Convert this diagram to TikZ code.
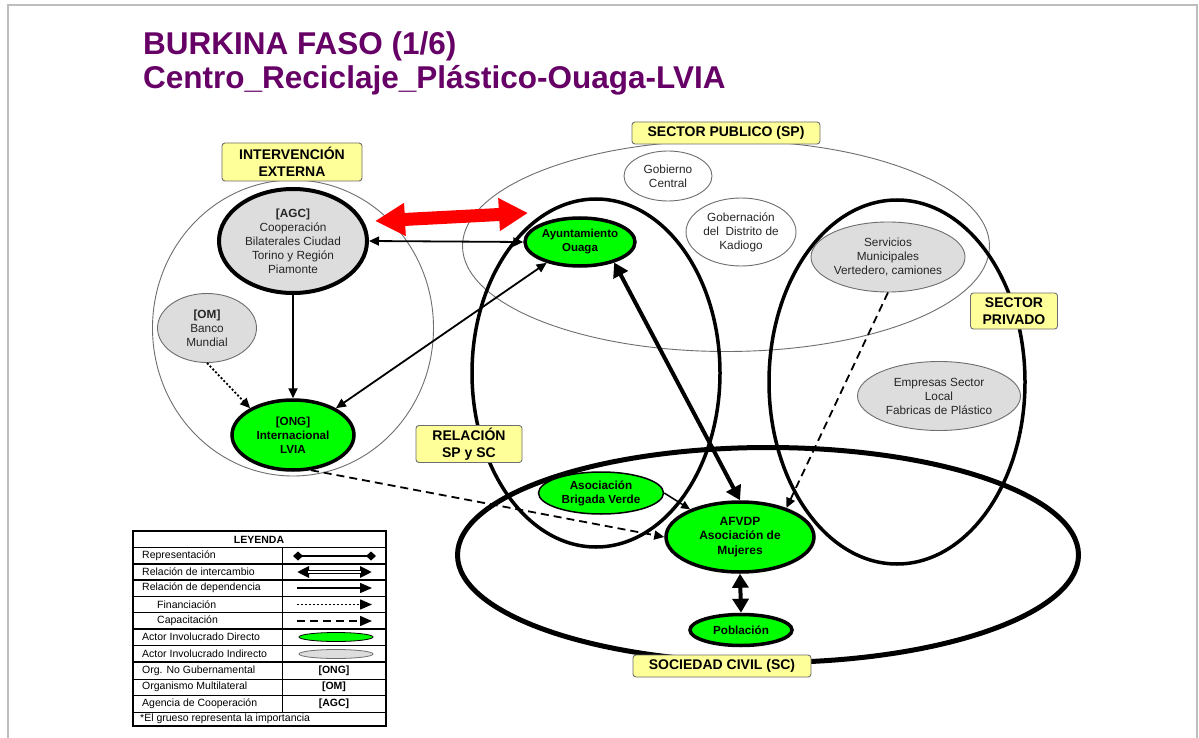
\documentclass[tikz,border=0pt]{standalone}
\usepackage{fontspec}
\setmainfont{Liberation Sans}
\usetikzlibrary{arrows.meta,shapes.geometric}
\definecolor{titlepurple}{RGB}{102,0,102}
\definecolor{actgreen}{RGB}{0,255,0}
\definecolor{actgray}{RGB}{221,221,221}
\definecolor{labyellow}{RGB}{255,255,153}
\definecolor{framegray}{RGB}{190,190,190}
\definecolor{thingray}{RGB}{110,110,110}
\begin{document}
\begin{tikzpicture}[x=1pt,y=-1pt,
  region/.style={ellipse, draw, inner sep=0pt},
  thinregion/.style={region, draw=thingray, line width=0.9},
  thickregion/.style={region, draw=black, line width=3.5},
  lab/.style={draw=thingray, fill=labyellow, rounded corners=3, align=center, inner sep=0pt, line width=0.9, font=\fontsize{14}{17}\selectfont\bfseries},
  actor/.style={ellipse, inner sep=0pt, align=center, font=\fontsize{11.8}{14}\selectfont},
  direct/.style={actor, fill=actgreen, draw=black, line width=3.5, font=\fontsize{11.7}{14}\selectfont\bfseries},
  indirect/.style={actor, fill=actgray, draw=thingray, line width=0.9, text=black!85},
  public/.style={actor, fill=white, draw=thingray, line width=0.9, text=black!85},
  dep/.style={line width=1.8, -{Triangle[length=10pt,width=9pt]}},
  exch/.style={line width=1.8, {Triangle[length=10pt,width=9pt]}-{Triangle[length=10pt,width=9pt]}},
  bigexch/.style={line width=4, {Triangle[length=14pt,width=16pt]}-{Triangle[length=14pt,width=16pt]}},
  fin/.style={dep, dash pattern=on 2pt off 2pt},
  capac/.style={dep, dash pattern=on 8pt off 5pt},
  redarrow/.style={red, line width=13, {Triangle[length=30pt,width=31pt]}-{Triangle[length=29pt,width=31pt]}},
  lgtext/.style={anchor=west, inner sep=0pt, font=\fontsize{10.5}{12}\selectfont},
  lgbold/.style={inner sep=0pt, font=\fontsize{10.5}{12}\selectfont\bfseries},
  lgthick/.style={line width=1.8},
  lgthin/.style={line width=0.8}
]
\useasboundingbox (0,0) rectangle (1199,738);
\fill[white] (0,0) rectangle (1199,738);
\draw[framegray, line width=2] (8,738) -- (8,5) -- (1197,5) -- (1197,738);

% titles
\node[anchor=base west, inner sep=0pt, text=titlepurple, font=\fontsize{31.5}{36}\selectfont\bfseries] (t1) at (143,55) {BURKINA FASO (1/6)};
\node[anchor=base west, inner sep=0pt, text=titlepurple, font=\fontsize{31.5}{36}\selectfont\bfseries] (t2) at (143,89) {Centro\_Reciclaje\_Plástico-Ouaga-LVIA};

% regions
\node[thinregion, minimum width=281, minimum height=296] (ext) at (293,328) {};
\node[thinregion, minimum width=527, minimum height=211] (publ) at (726,246) {};
\node[thickregion, minimum width=248, minimum height=348] (relac) at (596,373) {};
\node[thickregion, minimum width=256, minimum height=364] (priv) at (897,382) {};
\node[region, line width=5, minimum width=621, minimum height=215] (civil) at (768,555) {};

% labels
\node[lab, minimum width=188, minimum height=22] (lsp) at (726,133) {SECTOR PUBLICO (SP)};
\node[lab, minimum width=140, minimum height=38] (lext) at (292,162) {INTERVENCIÓN\\EXTERNA};
\node[lab, minimum width=87, minimum height=36] (lpriv) at (1014,311) {SECTOR\\PRIVADO};
\node[lab, minimum width=106, minimum height=37] (lrel) at (469,444) {RELACIÓN\\SP y SC};
\node[lab, minimum width=178, minimum height=22] (lciv) at (722,666) {SOCIEDAD CIVIL (SC)};

% actors
\node[actor, fill=actgray, draw=black, line width=4, text=black!85, minimum width=148, minimum height=104] (agc) at (293,241) {\textbf{[AGC]}\\Cooperación\\Bilaterales Ciudad\\Torino y Región\\Piamonte};
\node[indirect, minimum width=99, minimum height=69] (om) at (207,328) {\textbf{[OM]}\\Banco\\Mundial};
\node[direct, minimum width=122, minimum height=70] (lvia) at (293,435) {[ONG]\\Internacional\\LVIA};
\node[direct, minimum width=110, minimum height=48, font=\fontsize{11.5}{14}\selectfont\bfseries] (ayunt) at (580,242) {Ayuntamiento\\Ouaga};
\node[public, minimum width=88, minimum height=50] (gob) at (668,176) {Gobierno\\Central};
\node[public, minimum width=110, minimum height=68] (gobern) at (741,232) {Gobernación\\del\ \ Distrito de\\Kadiogo};
\node[indirect, minimum width=154, minimum height=70] (serv) at (888,257) {Servicios\\Municipales\\Vertedero, camiones};
\node[indirect, minimum width=163, minimum height=69] (emp) at (939,396) {Empresas Sector\\Local\\Fabricas de Plástico};
\node[direct, line width=1.5, minimum width=125, minimum height=42] (brig) at (601,493) {Asociación\\Brigada Verde};
\node[direct, minimum width=148, minimum height=70, font=\fontsize{12}{14.5}\selectfont\bfseries] (afvdp) at (740,537) {AFVDP\\Asociación de\\Mujeres};
\node[direct, minimum width=102, minimum height=31] (pob) at (741,630) {Población};

% connectors
\coordinate (redL) at (375,221);
\coordinate (redR) at (528,213);
\draw[redarrow] (redL) -- (redR);
\draw[exch] (agc.east) -- (ayunt.west);
\draw[dep] (agc.south) -- (lvia.north);
\draw[fin] (om.south) -- (lvia.148);
\draw[exch] (ayunt.212) -- (lvia.32);
\draw[bigexch] (ayunt.329) -- (afvdp.north);
\draw[capac] (lvia.297) -- (afvdp.west);
\draw[line width=1.5, -{Triangle[length=9pt,width=8pt]}] (brig.east) -- (afvdp.151);
\draw[capac] (serv.south) -- (afvdp.32);
\draw[bigexch] (afvdp.south) -- (pob.north);

% legend
\fill[white] (133,531) rectangle (386,726);
\draw[lgthin] (133,596.5) -- (386,596.5) (133,612.5) -- (386,612.5) (133,645.5) -- (386,645.5)
  (133,679) -- (386,679) (133,695.5) -- (386,695.5) (133,712) -- (386,712);
\draw[lgthin] (282,547.5) -- (282,712);
\draw[lgthick] (133,547.5) -- (386,547.5) (133,564) -- (386,564) (133,580) -- (386,580)
  (133,629) -- (386,629) (133,662) -- (386,662);
\draw[lgthick] (133,531) rectangle (386,726);
\node[lgbold] (lgh) at (259,539.5) {LEYENDA};
\node[lgtext] (lg1) at (142,556) {Representación};
\node[lgtext] (lg2) at (142,572) {Relación de intercambio};
\node[lgtext] (lg3) at (142,588) {Relación de dependencia};
\node[lgtext] (lg4) at (157,604.5) {Financiación};
\node[lgtext] (lg5) at (157,621) {Capacitación};
\node[lgtext] (lg6) at (142,637) {Actor Involucrado Directo};
\node[lgtext] (lg7) at (142,654) {Actor Involucrado Indirecto};
\node[lgtext] (lg8) at (142,670.5) {Org. No Gubernamental};
\node[lgtext] (lg9) at (142,687) {Organismo Multilateral};
\node[lgtext] (lg10) at (142,703.5) {Agencia de Cooperación};
\node[lgtext] (lg11) at (140,719) {*El grueso representa la importancia};
\node[lgbold] (lgo) at (334,670.5) {[ONG]};
\node[lgbold] (lgm) at (334,687) {[OM]};
\node[lgbold] (lga) at (334,703.5) {[AGC]};
\coordinate (r1a) at (293,556); \coordinate (r1b) at (376,556);
\draw[line width=1.5, {Diamond[length=10pt,width=9pt]}-{Diamond[length=10pt,width=9pt]}] (r1a) -- (r1b);
\coordinate (r2a) at (297,572); \coordinate (r2b) at (372,572);
\draw[line width=4, {Triangle[length=12pt,width=11pt]}-{Triangle[length=12pt,width=11pt]}] (r2a) -- (r2b);
\draw[line width=1.6, white, shorten <=11pt, shorten >=11pt] (r2a) -- (r2b);
\coordinate (r3a) at (297,588); \coordinate (r3b) at (372,588);
\draw[line width=1.5, -{Triangle[length=12pt,width=10pt]}] (r3a) -- (r3b);
\coordinate (r4a) at (297,604.5); \coordinate (r4b) at (372,604.5);
\draw[line width=1.5, dash pattern=on 2pt off 2pt, -{Triangle[length=12pt,width=10pt]}] (r4a) -- (r4b);
\coordinate (r5a) at (297,621); \coordinate (r5b) at (372,621);
\draw[line width=1.5, dash pattern=on 8pt off 5pt, -{Triangle[length=12pt,width=10pt]}] (r5a) -- (r5b);
\node[ellipse, draw=black, fill=actgreen, line width=0.8, minimum width=74, minimum height=9, inner sep=0pt] (lge1) at (336,637) {};
\node[ellipse, draw=thingray, fill=actgray, line width=0.8, minimum width=74, minimum height=9, inner sep=0pt] (lge2) at (336,654) {};
\end{tikzpicture}
\end{document}
